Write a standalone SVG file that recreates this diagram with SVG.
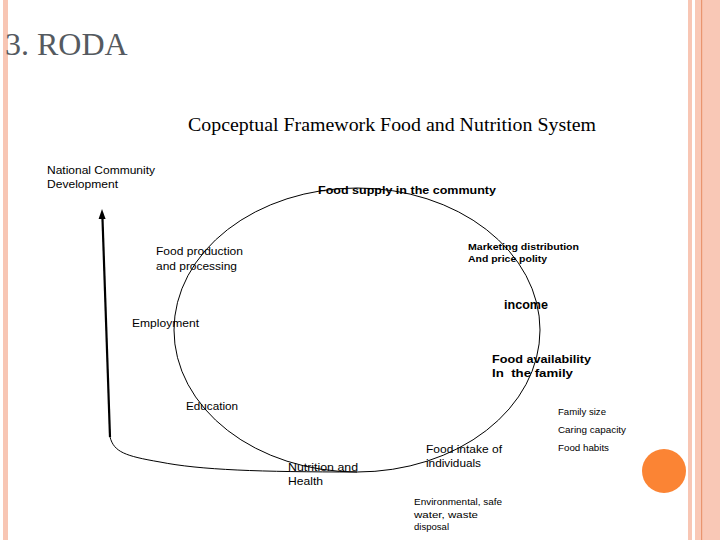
<svg xmlns="http://www.w3.org/2000/svg" width="720" height="540" viewBox="0 0 720 540">
<style>
.s{font-family:"Liberation Sans",Arial,sans-serif;fill:#000;}
.b{font-weight:bold;}
.thin{fill:none;stroke:#000;stroke-width:1;}
</style>
<rect width="720" height="540" fill="#fff"/>
<g id="frame">
<rect x="3" y="0" width="5" height="540" fill="#f8c6b4"/>
<rect x="688" y="0" width="4" height="540" fill="#f8c6b4"/>
<rect x="695" y="0" width="25" height="540" fill="#f9c8b6"/>
<rect x="701" y="0" width="1.2" height="540" fill="#e9956f"/>
<circle cx="664" cy="471" r="22" fill="#fb8434"/>
</g>
<text x="5" y="55" font-family="'Liberation Serif','Times New Roman',serif" font-size="32" fill="#555a60">3. RODA</text>
<text x="188" y="131" font-family="'Liberation Serif','Times New Roman',serif" font-size="18" textLength="408" lengthAdjust="spacingAndGlyphs" fill="#000">Copceptual Framework Food and Nutrition System</text>
<g id="connectors">
<ellipse cx="357" cy="330" rx="183" ry="142" class="thin"/>
<path d="M110,437 C114,452 125,456 160,462 C200,470 260,472 357,472" class="thin"/>
<path d="M110,437 L102.4,216" fill="none" stroke="#000" stroke-width="2.2"/>
<polygon points="98.6,219 102,209 105.6,219" fill="#000"/>
</g>
<g id="n-national"><text class="s" font-size="11.8" x="47" y="174" textLength="108" lengthAdjust="spacingAndGlyphs">National Community</text><text class="s" font-size="11.8" x="47" y="188" textLength="71" lengthAdjust="spacingAndGlyphs">Development</text></g>
<g id="n-foodsupply"><text class="s b" font-size="11.5" x="318" y="194" textLength="178" lengthAdjust="spacingAndGlyphs">Food supply in the communty</text></g>
<g id="n-marketing"><text class="s b" font-size="9.6" x="468" y="250" textLength="111" lengthAdjust="spacingAndGlyphs">Marketing distribution</text><text class="s b" font-size="9.6" x="468" y="262" textLength="79" lengthAdjust="spacingAndGlyphs">And price polity</text></g>
<g id="n-foodprod"><text class="s" font-size="11.8" x="156" y="255" textLength="87" lengthAdjust="spacingAndGlyphs">Food production</text><text class="s" font-size="11.8" x="156" y="270" textLength="81" lengthAdjust="spacingAndGlyphs">and processing</text></g>
<g id="n-income"><text class="s b" font-size="12" x="504" y="309" textLength="44" lengthAdjust="spacingAndGlyphs">income</text></g>
<g id="n-employment"><text class="s" font-size="11.8" x="132" y="327" textLength="67" lengthAdjust="spacingAndGlyphs">Employment</text></g>
<g id="n-foodavail"><text class="s b" font-size="11.5" x="492" y="363" textLength="99" lengthAdjust="spacingAndGlyphs">Food availability</text><text class="s b" font-size="11.5" x="492" y="377" textLength="81" lengthAdjust="spacingAndGlyphs" xml:space="preserve">In  the family</text></g>
<g id="n-education"><text class="s" font-size="11.8" x="186" y="410" textLength="52" lengthAdjust="spacingAndGlyphs">Education</text></g>
<g id="n-family"><text class="s" font-size="9.5" x="558" y="415" textLength="48" lengthAdjust="spacingAndGlyphs">Family size</text><text class="s" font-size="9.5" x="558" y="433" textLength="68" lengthAdjust="spacingAndGlyphs">Caring capacity</text><text class="s" font-size="9.5" x="558" y="451" textLength="51" lengthAdjust="spacingAndGlyphs">Food habits</text></g>
<g id="n-intake"><text class="s" font-size="11.8" x="426" y="453" textLength="76" lengthAdjust="spacingAndGlyphs">Food intake of</text><text class="s" font-size="11.8" x="426" y="467" textLength="55" lengthAdjust="spacingAndGlyphs">individuals</text></g>
<g id="n-nutrition"><text class="s" font-size="11.8" x="288" y="471" textLength="70" lengthAdjust="spacingAndGlyphs">Nutrition and</text><text class="s" font-size="11.8" x="288" y="485" textLength="35" lengthAdjust="spacingAndGlyphs">Health</text></g>
<g id="n-env"><text class="s" font-size="9.5" x="414" y="505" textLength="88" lengthAdjust="spacingAndGlyphs">Environmental, safe</text><text class="s" font-size="9.5" x="414" y="518" textLength="64" lengthAdjust="spacingAndGlyphs">water, waste</text><text class="s" font-size="9.5" x="414" y="530" textLength="35" lengthAdjust="spacingAndGlyphs">disposal</text></g>
</svg>
